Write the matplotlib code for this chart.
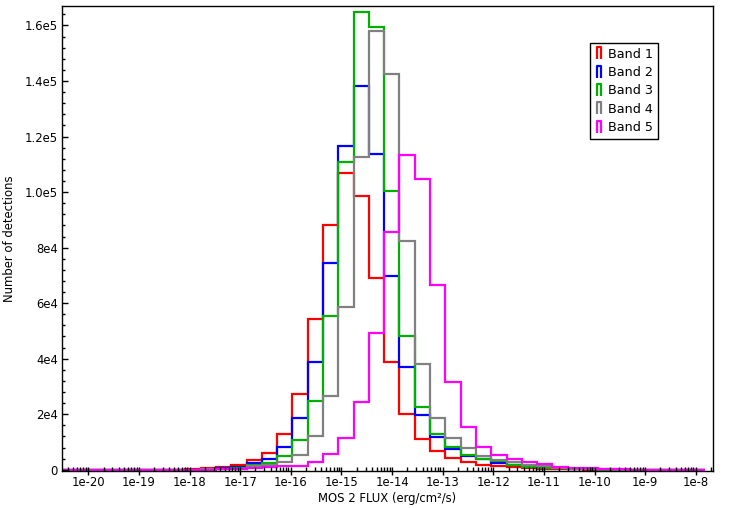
"""
Histogram of MOS 2 flux per energy band, log-binned.
"""
import matplotlib
matplotlib.use("Agg")
import matplotlib.pyplot as plt
import numpy as np
from matplotlib.lines import Line2D
from matplotlib.path import Path
from matplotlib.ticker import LogLocator, MultipleLocator


################################################################################
# DATA
################################################################################

# 42 bins of ~0.302 dex from 1e-20.5 to 1e-7.81 erg/cm2/s
log_edges = np.linspace(-20.5, -7.81, 43)

band1 = [0, 0, 0, 0, 0, 0, 0, 0, 100, 800, 860, 1580, 3380, 6110, 12930,
         27300, 54250, 88030, 106700, 98630, 68990, 38950, 20120, 11030,
         6830, 4200, 2770, 1800, 1400, 970, 610, 360, 250, 120, 60, 30,
         0, 0, 0, 0, 0, 0]
band2 = [0, 0, 0, 0, 0, 0, 0, 0, 60, 300, 600, 1000, 2515, 3950, 8260,
         18680, 38800, 74380, 116560, 138220, 113790, 69700, 37010, 19830,
         11930, 7550, 4920, 3900, 2515, 1690, 970, 720, 500, 250, 120, 60,
         30, 0, 0, 0, 0, 0]
band3 = [0, 0, 0, 0, 0, 0, 0, 0, 40, 200, 400, 610, 1800, 2515, 5030,
         10780, 24790, 55480, 110920, 164920, 159530, 100250, 48150, 22740,
         12940, 8340, 5390, 3850, 3130, 1690, 1080, 720, 500, 250, 120, 60,
         30, 0, 0, 0, 0, 0]
band4 = [0, 0, 0, 0, 0, 0, 0, 0, 30, 100, 300, 430, 1330, 1800, 2870,
         5430, 12000, 26590, 58570, 112460, 158090, 142640, 82280, 38090,
         18700, 11500, 7910, 4920, 3590, 2660, 1690, 1220, 610, 360, 180,
         90, 40, 0, 0, 0, 0, 0]
band5 = [0, 0, 0, 0, 0, 0, 0, 0, 0, 0, 100, 300, 610, 860, 1330, 1440,
         2870, 5530, 11280, 24430, 49370, 85510, 113180, 104560, 66360,
         31690, 15520, 8340, 5460, 3950, 2870, 1940, 1080, 720, 500, 150,
         100, 80, 80, 60, 60, 60]

bands = [band1, band2, band3, band4, band5]
labels = ["Band 1", "Band 2", "Band 3", "Band 4", "Band 5"]
colors = ["#ff0000", "#0000ff", "#00b000", "#808080", "#ff00ff"]

xtick_exps = list(range(-20, -7))
xtick_labels = [f"1e{e}" for e in xtick_exps]
ytick_vals = [0, 2e4, 4e4, 6e4, 8e4, 1.0e5, 1.2e5, 1.4e5, 1.6e5]
ytick_labels = ["0", "2e4", "4e4", "6e4", "8e4", "1.0e5", "1.2e5", "1.4e5", "1.6e5"]


################################################################################
# PLOTTING
################################################################################

plt.rcParams["font.family"] = ["DejaVu Sans"]
plt.rcParams["font.size"] = 8.4

fig = plt.figure(figsize=(7.32, 5.08), dpi=100)
ax = fig.add_axes([0.0847, 0.0734, 0.8893, 0.9147])

edges = 10.0 ** log_edges
for vals, col in zip(bands, colors):
    ax.stairs(vals, edges, color=col, lw=1.6, baseline=0)

# Axes and ticks.
ax.set_xscale("log")
ax.set_xlim(10 ** -20.52, 10 ** -7.66)
ax.set_ylim(-350, 167000)
ax.set_xticks([10.0 ** e for e in xtick_exps], xtick_labels)
ax.xaxis.set_minor_locator(LogLocator(base=10, subs=np.arange(2, 10), numticks=30))
ax.set_yticks(ytick_vals, ytick_labels)
ax.yaxis.set_minor_locator(MultipleLocator(4000))

ax.tick_params(axis="x", which="major", direction="inout", length=6, width=1, pad=1)
ax.tick_params(axis="x", which="minor", direction="in", length=3, width=1)
ax.tick_params(axis="y", which="major", direction="in", length=4, width=1, pad=3)
ax.tick_params(axis="y", which="minor", direction="in", length=2, width=1)
for sp in ax.spines.values():
    sp.set_linewidth(1)

ax.set_xlabel("MOS 2 FLUX (erg/cm²/s)", labelpad=2)
ax.set_ylabel("Number of detections", labelpad=6)

# Legend with bar-outline glyphs.
bar_glyph = Path([(-0.32, -1), (-0.32, 1), (0.32, 1), (0.32, -1)],
                 [Path.MOVETO, Path.LINETO, Path.LINETO, Path.LINETO])
handles = [Line2D([], [], ls="none", marker=bar_glyph, markersize=9,
                  markerfacecolor="none", markeredgecolor=c, markeredgewidth=1.6)
           for c in colors]
leg = ax.legend(handles, labels, loc="upper left", bbox_to_anchor=(0.811, 0.92),
                frameon=True, fancybox=False, edgecolor="black", framealpha=1,
                fontsize=9.2, handlelength=0.7, handletextpad=0.4,
                labelspacing=0.42, borderpad=0.35, borderaxespad=0)
leg.get_frame().set_linewidth(1)


################################################################################
# EXPORT
################################################################################

fig.savefig("out.png", dpi=100)
